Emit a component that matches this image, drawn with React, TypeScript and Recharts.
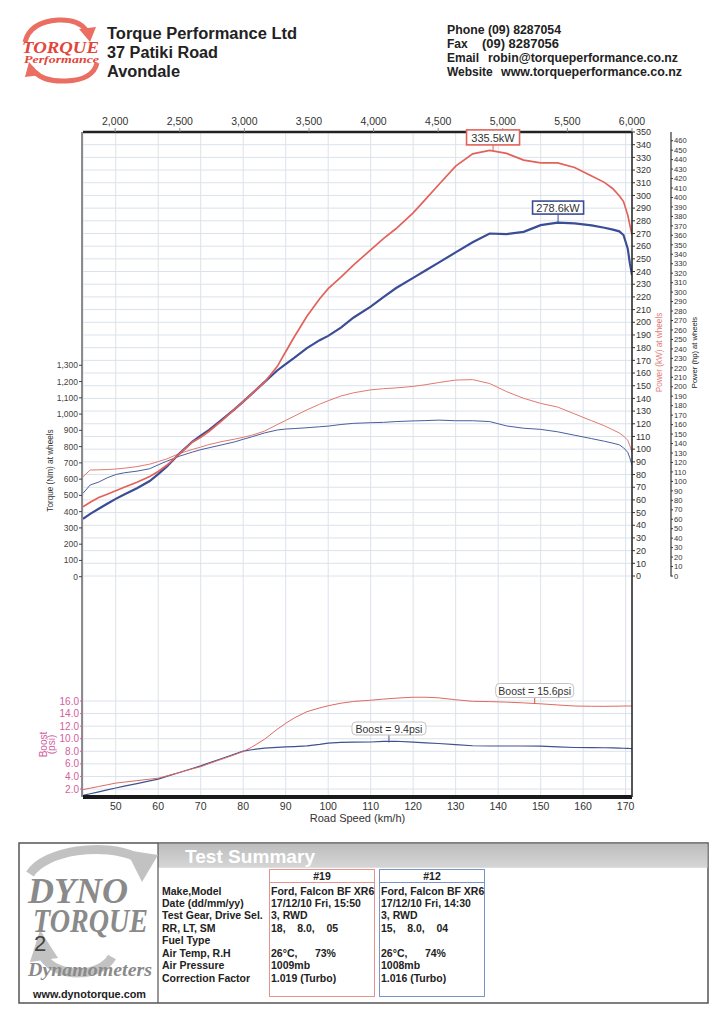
import React from 'react';
import { ComposedChart, Line, XAxis, YAxis, CartesianGrid, ReferenceDot } from 'recharts';

// ---------- data ----------
const speedKmh = [42.3, 44, 46, 48, 50, 52, 55, 58, 60, 62, 65, 68, 70, 72, 75, 78, 80, 82, 85, 88, 90, 92, 95, 98, 100, 103, 106, 110, 113, 116, 120, 123, 126, 130, 134, 138, 142, 146, 150, 154, 158, 162, 165, 167, 168.5, 169.5, 170.5, 171, 171.5];
const powerKw19 = [54.6, 58.1, 61.9, 64.5, 67.2, 69.9, 73.9, 78.4, 82.4, 87.3, 96.3, 105.5, 109.4, 114.1, 122.5, 131.5, 137.5, 143.6, 152.8, 165.1, 176.8, 188.4, 204.7, 218.5, 226.5, 235.6, 245.2, 257.1, 266, 273.9, 286.2, 297.3, 308.4, 323.1, 332.8, 335.5, 333.1, 327.8, 325.7, 325.7, 322, 315.4, 310.3, 305.3, 299.8, 295.2, 284.5, 276.6, 268.7];
const powerKw12 = [45, 49, 53, 57, 60.8, 64.2, 69.2, 74.9, 80.3, 86.2, 96.5, 105.8, 110.7, 115.2, 123.2, 131.5, 137.5, 143.6, 152.8, 162, 167.1, 172, 179.7, 185.9, 189.3, 195.8, 203.8, 212.3, 219.9, 227, 235, 241, 247, 255.1, 263.1, 270, 269.5, 271.3, 276.6, 278.6, 278, 276.4, 274.5, 273, 271.7, 268.8, 258, 246.4, 237.2];
const torqueNm19 = [615, 656, 657, 659, 662, 667, 677, 692, 708, 724, 758, 782, 797, 813, 831, 846, 857, 870, 895, 935, 961, 987, 1026, 1061, 1082, 1111, 1131, 1149, 1156, 1161, 1170, 1181, 1194, 1209, 1212, 1188, 1138, 1097, 1066, 1043, 1001, 959, 928, 903, 884, 865, 840, 805, 765];
const torqueNm12 = [513, 564, 582, 608, 628, 639, 649, 664, 688, 710, 741, 766, 781, 793, 811, 829, 845, 860, 884, 902, 908, 911, 916, 922, 926, 936, 943, 947, 949, 954, 958, 960, 963, 959, 959, 954, 927, 913, 906, 891, 870, 849, 833, 821, 811, 793, 765, 730, 685];
const boostPsi19 = [1.9, 2.13, 2.4, 2.67, 2.94, 3.1, 3.33, 3.57, 3.72, 4.08, 4.63, 5.2, 5.55, 6.05, 6.75, 7.45, 7.97, 8.65, 9.9, 11.5, 12.45, 13.3, 14.3, 14.9, 15.24, 15.65, 15.93, 16.12, 16.3, 16.45, 16.6, 16.6, 16.5, 16.2, 15.95, 15.9, 15.82, 15.7, 15.55, 15.37, 15.2, 15.16, 15.15, 15.17, 15.18, 15.2, 15.2, 15.2, 15.2];
const boostPsi12 = [1.0, 1.25, 1.55, 1.86, 2.16, 2.45, 2.87, 3.3, 3.58, 4.0, 4.63, 5.26, 5.68, 6.15, 6.85, 7.56, 8.02, 8.25, 8.5, 8.62, 8.7, 8.75, 8.85, 9.1, 9.3, 9.42, 9.47, 9.48, 9.58, 9.6, 9.46, 9.35, 9.24, 9.07, 8.88, 8.84, 8.84, 8.84, 8.82, 8.69, 8.6, 8.58, 8.56, 8.53, 8.5, 8.48, 8.45, 8.44, 8.43];

const rpmTicks = [2000, 2500, 3000, 3500, 4000, 4500, 5000, 5500, 6000];
const speedTicks = [50, 60, 70, 80, 90, 100, 110, 120, 130, 140, 150, 160, 170];
const torqueTicks = [0, 100, 200, 300, 400, 500, 600, 700, 800, 900, 1000, 1100, 1200, 1300];
const kwTicks = [0, 10, 20, 30, 40, 50, 60, 70, 80, 90, 100, 110, 120, 130, 140, 150, 160, 170, 180, 190, 200, 210, 220, 230, 240, 250, 260, 270, 280, 290, 300, 310, 320, 330, 340, 350];
const hpTicks = [0, 10, 20, 30, 40, 50, 60, 70, 80, 90, 100, 110, 120, 130, 140, 150, 160, 170, 180, 190, 200, 210, 220, 230, 240, 250, 260, 270, 280, 290, 300, 310, 320, 330, 340, 350, 360, 370, 380, 390, 400, 410, 420, 430, 440, 450, 460];
const boostTicks = [2, 4, 6, 8, 10, 12, 14, 16];

const powerPeaks = [
  { run: '#19', speed: 138.8, value: 335.5, label: '335.5kW' },
  { run: '#12', speed: 154.1, value: 278.6, label: '278.6kW' },
];
const boostMarks = [
  { run: '#19', speed: 148.6, value: 15.6, label: 'Boost = 15.6psi' },
  { run: '#12', speed: 114.3, value: 9.4, label: 'Boost = 9.4psi' },
];

const summaryLabels = ['Make,Model', 'Date (dd/mm/yy)', 'Test Gear, Drive Sel.', 'RR, LT, SM', 'Fuel Type', 'Air Temp, R.H', 'Air Pressure', 'Correction Factor'];
const run19Values = ['Ford, Falcon BF XR6', '17/12/10 Fri, 15:50', '3, RWD', '18,    8.0,    05', '', '26°C,      73%', '1009mb', '1.019 (Turbo)'];
const run12Values = ['Ford, Falcon BF XR6', '17/12/10 Fri, 14:30', '3, RWD', '15,    8.0,    04', '', '26°C,      74%', '1008mb', '1.016 (Turbo)'];

// rows that only carry the top (engine speed) axis scale
const rpmAxisRows = rpmTicks.map((r) => ({ rpm: r, none: null }));

// ---------- styles ----------
const RED = '#e2625a';
const BLUE = '#3a4d96';
const PINK = '#d2609e';
const GRID = '#dce2ea';

function Callout(props: any) {
  const { cx, cy, text, stroke, lineColor, w, h, gap, rx, fontSize, sw } = props;
  if (cx == null || cy == null) return null;
  const top = cy - gap - h;
  return (
    <g>
      <line x1={cx} y1={cy} x2={cx} y2={cy - gap} stroke={lineColor} strokeWidth={1} />
      <rect x={cx - w / 2} y={top} width={w} height={h} rx={rx} fill="#fff" stroke={stroke} strokeWidth={sw} />
      <text x={cx} y={top + h / 2 + 0.5} textAnchor="middle" dominantBaseline="central" fontSize={fontSize} fill="#333">{text}</text>
    </g>
  );
}

function RotTitle(props: any) {
  const { viewBox, lines, dx, dy, fill, fontSize, lineGap } = props;
  if (!viewBox) return null;
  const cx = viewBox.x + dx;
  const cy = viewBox.y + viewBox.height / 2 + dy;
  return (
    <text transform={`rotate(-90 ${cx} ${cy})`} x={cx} y={cy} textAnchor="middle" dominantBaseline="central" fill={fill} fontSize={fontSize}>
      {lines.map((l: string, i: number) => (
        <tspan key={i} x={cx} dy={i === 0 ? 0 : lineGap}>{l}</tspan>
      ))}
    </text>
  );
}

function BottomTitle(props: any) {
  const { viewBox, text, dy, fontSize, fill } = props;
  if (!viewBox) return null;
  return (
    <text x={viewBox.x + viewBox.width / 2} y={viewBox.y + dy} textAnchor="middle" dominantBaseline="central" fontSize={fontSize} fill={fill}>{text}</text>
  );
}

const fmtComma = (v: number) => v.toLocaleString('en-US');

export default function App() {
  const rows = speedKmh.map((s, i) => ({
    speed: s,
    p19: powerKw19[i],
    p12: powerKw12[i],
    t19: torqueNm19[i],
    t12: torqueNm12[i],
    b19: boostPsi19[i],
    b12: boostPsi12[i],
  }));

  const rowY0 = 894.5;
  const rowStep = 12.45;

  return (
    <div style={{ position: 'absolute', left: 0, top: 0, width: 724, height: 1024, background: '#fff', overflow: 'hidden', fontFamily: "'Liberation Sans', Arial, sans-serif" }}>
      <div style={{ position: 'absolute', left: 0, top: 0 }}>
        <ComposedChart width={724} height={850} data={rows} margin={{ top: 102, right: 23, bottom: 23, left: 42 }}>
          <CartesianGrid xAxisId="spd" yAxisId="r1kw" stroke={GRID} strokeWidth={1} />
          <CartesianGrid xAxisId="spd" yAxisId="l1boost" vertical={false} stroke={GRID} strokeWidth={1} />

          <XAxis xAxisId="rpm" dataKey="rpm" orientation="top" type="number" domain={[1751, 6000]} ticks={rpmTicks} allowDataOverflow
            height={30} tickFormatter={fmtComma} tick={{ fontSize: 10.5, fill: '#333' }} tickSize={4} tickMargin={3}
            axisLine={{ stroke: '#222', strokeWidth: 2.5 }} tickLine={{ stroke: '#888' }} interval={0} />
          <XAxis xAxisId="spd" dataKey="speed" type="number" domain={[42.3, 171.5]} ticks={speedTicks} allowDataOverflow
            height={30} tick={{ fontSize: 10.5, fill: '#333' }} tickSize={4} tickMargin={2}
            axisLine={{ stroke: '#1a1a1a', strokeWidth: 4 }} tickLine={false} interval={0}
            label={<BottomTitle text="Road Speed (km/h)" dy={21} fontSize={11} fill="#333" />} />

          <YAxis yAxisId="l2torque" orientation="left" type="number" domain={[-1354.7, 2734.6]} ticks={torqueTicks} allowDataOverflow
            width={40} tickFormatter={fmtComma} tick={{ fontSize: 8.5, fill: '#444' }} tickSize={3} tickMargin={1}
            axisLine={{ stroke: '#444', strokeWidth: 1.2 }} tickLine={{ stroke: '#444' }} interval={0}
            label={<RotTitle lines={['Torque (Nm) at wheels']} dx={7.5} dy={6} fill="#333" fontSize={8.2} lineGap={0} />} />
          <YAxis yAxisId="l1boost" orientation="left" type="number" domain={[0.73, 106.5]} ticks={boostTicks} allowDataOverflow
            width={1} tickFormatter={(v: number) => v.toFixed(1)} tick={{ fontSize: 10, fill: PINK }} tickSize={3} tickMargin={1}
            axisLine={false} tickLine={{ stroke: PINK }} interval={0}
            label={<RotTitle lines={['Boost', '(psi)']} dx={-39} dy={280} fill={PINK} fontSize={10} lineGap={8} />} />
          <YAxis yAxisId="r2hp" orientation="right" type="number" domain={[-233.5, 469.2]} ticks={hpTicks} allowDataOverflow
            width={30} tick={{ fontSize: 7.6, fill: '#333' }} tickSize={2} tickMargin={1}
            axisLine={{ stroke: '#333', strokeWidth: 1.2, strokeDasharray: '444.5 400' }} tickLine={{ stroke: '#333' }} interval={0}
            label={<RotTitle lines={['Power (hp) at wheels']} dx={23} dy={-112} fill="#222" fontSize={7.6} lineGap={0} />} />
          <YAxis yAxisId="r1kw" orientation="right" type="number" domain={[-174.2, 350]} ticks={kwTicks} allowDataOverflow
            width={39} tick={{ fontSize: 9, fill: '#333' }} tickSize={3} tickMargin={1}
            axisLine={{ stroke: '#222', strokeWidth: 1.5 }} tickLine={{ stroke: '#333' }} interval={0}
            label={<RotTitle lines={['Power (kW) at wheels']} dx={27} dy={-112} fill="#e07b78" fontSize={8.2} lineGap={0} />} />

          <Line xAxisId="rpm" yAxisId="r1kw" data={rpmAxisRows} dataKey="none" stroke="none" dot={false} activeDot={false} legendType="none" isAnimationActive={false} />

          <Line xAxisId="spd" yAxisId="l2torque" dataKey="t12" stroke="#4a5ea0" strokeWidth={1} dot={false} isAnimationActive={false} type="linear" />
          <Line xAxisId="spd" yAxisId="l2torque" dataKey="t19" stroke="#e07a70" strokeWidth={1} dot={false} isAnimationActive={false} type="linear" />
          <Line xAxisId="spd" yAxisId="r1kw" dataKey="p12" stroke={BLUE} strokeWidth={2.2} dot={false} isAnimationActive={false} type="linear" />
          <Line xAxisId="spd" yAxisId="r1kw" dataKey="p19" stroke={RED} strokeWidth={1.7} dot={false} isAnimationActive={false} type="linear" />
          <Line xAxisId="spd" yAxisId="l1boost" dataKey="b12" stroke="#3f528f" strokeWidth={1.2} dot={false} isAnimationActive={false} type="linear" />
          <Line xAxisId="spd" yAxisId="l1boost" dataKey="b19" stroke="#dd6a62" strokeWidth={1} dot={false} isAnimationActive={false} type="linear" />

          {powerPeaks.map((p) => (
            <ReferenceDot key={p.run} xAxisId="spd" yAxisId="r1kw" x={p.speed} y={p.value} r={0} ifOverflow="visible"
              shape={(sp: any) => (
                <Callout cx={sp.cx} cy={sp.cy} text={p.label}
                  stroke={p.run === '#19' ? RED : BLUE} lineColor={p.run === '#19' ? RED : BLUE}
                  w={p.run === '#19' ? 53 : 51} h={p.run === '#19' ? 15 : 13} gap={p.run === '#19' ? 5.5 : 8.5}
                  rx={0} fontSize={11} sw={1.6} />
              )} />
          ))}
          {boostMarks.map((p) => (
            <ReferenceDot key={p.run} xAxisId="spd" yAxisId="l1boost" x={p.speed} y={p.value} r={0} ifOverflow="visible"
              shape={(sp: any) => (
                <Callout cx={sp.cx} cy={sp.cy} text={p.label}
                  stroke="#c4c4c4" lineColor={p.run === '#19' ? '#c45a55' : '#45558f'}
                  w={p.run === '#19' ? 78 : 74} h={p.run === '#19' ? 14 : 13} gap={p.run === '#19' ? 6 : 7.5}
                  rx={4} fontSize={10.5} sw={1} />
              )} />
          ))}
        </ComposedChart>
      </div>

      <svg width={724} height={1024} style={{ position: 'absolute', left: 0, top: 0, pointerEvents: 'none' }}>
        <defs>
          <linearGradient id="band" x1="0" y1="0" x2="0" y2="1">
            <stop offset="0" stopColor="#bdbdbd" />
            <stop offset="1" stopColor="#d6d6d6" />
          </linearGradient>
        </defs>
        {/* Torque Performance logo */}
        <path d="M 25 42 Q 30 22 58 20 Q 78 19 86 30" stroke="#ea6e62" strokeWidth={5} fill="none" />
        <polygon points="79,29 96,27 90,42" fill="#ea6e62" />
        <path d="M 97 63 Q 93 80 66 81 Q 44 82 35 72" stroke="#ea6e62" strokeWidth={5} fill="none" />
        <polygon points="41,75 25,77 29,62" fill="#ea6e62" />
        <text x={22} y={53} fontFamily="'Liberation Serif', serif" fontStyle="italic" fontWeight="bold" fontSize={17} fill="#e2463a" textLength={77} lengthAdjust="spacingAndGlyphs">TORQUE</text>
        <text x={24} y={63} fontFamily="'Liberation Serif', serif" fontStyle="italic" fontWeight="bold" fontSize={9.5} fill="#e2463a" textLength={75} lengthAdjust="spacingAndGlyphs">Performance</text>

        {/* Company header */}
        <g fontFamily="'Liberation Sans', Arial, sans-serif" fontWeight="bold" fill="#222">
          <text x={107} y={39} fontSize={16} textLength={190} lengthAdjust="spacingAndGlyphs">Torque Performance Ltd</text>
          <text x={107} y={58} fontSize={16} textLength={111} lengthAdjust="spacingAndGlyphs">37 Patiki Road</text>
          <text x={107} y={77} fontSize={16} textLength={73} lengthAdjust="spacingAndGlyphs">Avondale</text>
          <text x={447} y={34} fontSize={12} textLength={114} lengthAdjust="spacingAndGlyphs">Phone (09) 8287054</text>
          <text x={447} y={47.5} fontSize={12}>Fax</text>
          <text x={482} y={47.5} fontSize={12} textLength={77} lengthAdjust="spacingAndGlyphs">(09) 8287056</text>
          <text x={447} y={61.5} fontSize={12}>Email</text>
          <text x={488} y={61.5} fontSize={12} textLength={190} lengthAdjust="spacingAndGlyphs">robin@torqueperformance.co.nz</text>
          <text x={447} y={75.5} fontSize={12}>Website</text>
          <text x={501} y={75.5} fontSize={12} textLength={181} lengthAdjust="spacingAndGlyphs">www.torqueperformance.co.nz</text>
        </g>

        {/* Test summary box */}
        <rect x={19} y={843} width={689} height={160} fill="none" stroke="#555" strokeWidth={1.5} />
        <rect x={158} y={843.8} width={549.5} height={24} fill="url(#band)" />
        <line x1={158} y1={843} x2={158} y2={1003} stroke="#555" strokeWidth={1.2} />
        <text x={185} y={863} fontSize={19} fontWeight="bold" fill="#fff" textLength={130} lengthAdjust="spacingAndGlyphs">Test Summary</text>

        <rect x={269.5} y={869.5} width={105} height={127} fill="none" stroke="#e39490" strokeWidth={1} />
        <line x1={269.5} y1={882.5} x2={374.5} y2={882.5} stroke="#e39490" strokeWidth={1} />
        <text x={322} y={879.5} fontSize={10.5} fontWeight="bold" textAnchor="middle" fill="#222">#19</text>
        <rect x={379.5} y={869.5} width={105} height={127} fill="none" stroke="#7b94c8" strokeWidth={1} />
        <line x1={379.5} y1={882.5} x2={484.5} y2={882.5} stroke="#7b94c8" strokeWidth={1} />
        <text x={432} y={879.5} fontSize={10.5} fontWeight="bold" textAnchor="middle" fill="#222">#12</text>

        <g fontSize={10.5} fontWeight="bold" fill="#222">
          {summaryLabels.map((t, i) => (
            <text key={'l' + i} x={162} y={rowY0 + i * rowStep}>{t}</text>
          ))}
          {run19Values.map((t, i) => (
            <text key={'a' + i} x={271} y={rowY0 + i * rowStep} xmlSpace="preserve" style={{ whiteSpace: 'pre' }}>{t}</text>
          ))}
          {run12Values.map((t, i) => (
            <text key={'b' + i} x={381} y={rowY0 + i * rowStep} xmlSpace="preserve" style={{ whiteSpace: 'pre' }}>{t}</text>
          ))}
        </g>

        {/* Dyno Torque logo */}
        <path d="M 30 874 C 45 850, 105 842, 136 857" stroke="#c2c2c2" strokeWidth={9} fill="none" />
        <polygon points="126,850 158,855 142,882" fill="#c2c2c2" />
        <path d="M 112 957 C 100 978, 58 978, 44 958" stroke="#c2c2c2" strokeWidth={9} fill="none" />
        <polygon points="30,962 58,958 40,930" fill="#c2c2c2" />
        <text x={28} y={903} fontFamily="'Liberation Serif', serif" fontStyle="italic" fontWeight="bold" fontSize={36} fill="#8a8a8a" textLength={100} lengthAdjust="spacingAndGlyphs">DYNO</text>
        <text x={33} y={932} fontFamily="'Liberation Serif', serif" fontStyle="italic" fontWeight="bold" fontSize={34} fill="#8a8a8a" textLength={115} lengthAdjust="spacingAndGlyphs">TORQUE</text>
        <text x={34} y={951} fontFamily="'Liberation Sans', sans-serif" fontSize={22} fill="#444">2</text>
        <text x={28} y={976} fontFamily="'Liberation Serif', serif" fontStyle="italic" fontWeight="bold" fontSize={19} fill="#8a8a8a" textLength={124} lengthAdjust="spacingAndGlyphs">Dynamometers</text>
        <text x={33} y={998} fontSize={10.5} fontWeight="bold" fill="#222" textLength={113} lengthAdjust="spacingAndGlyphs">www.dynotorque.com</text>
      </svg>
    </div>
  );
}
